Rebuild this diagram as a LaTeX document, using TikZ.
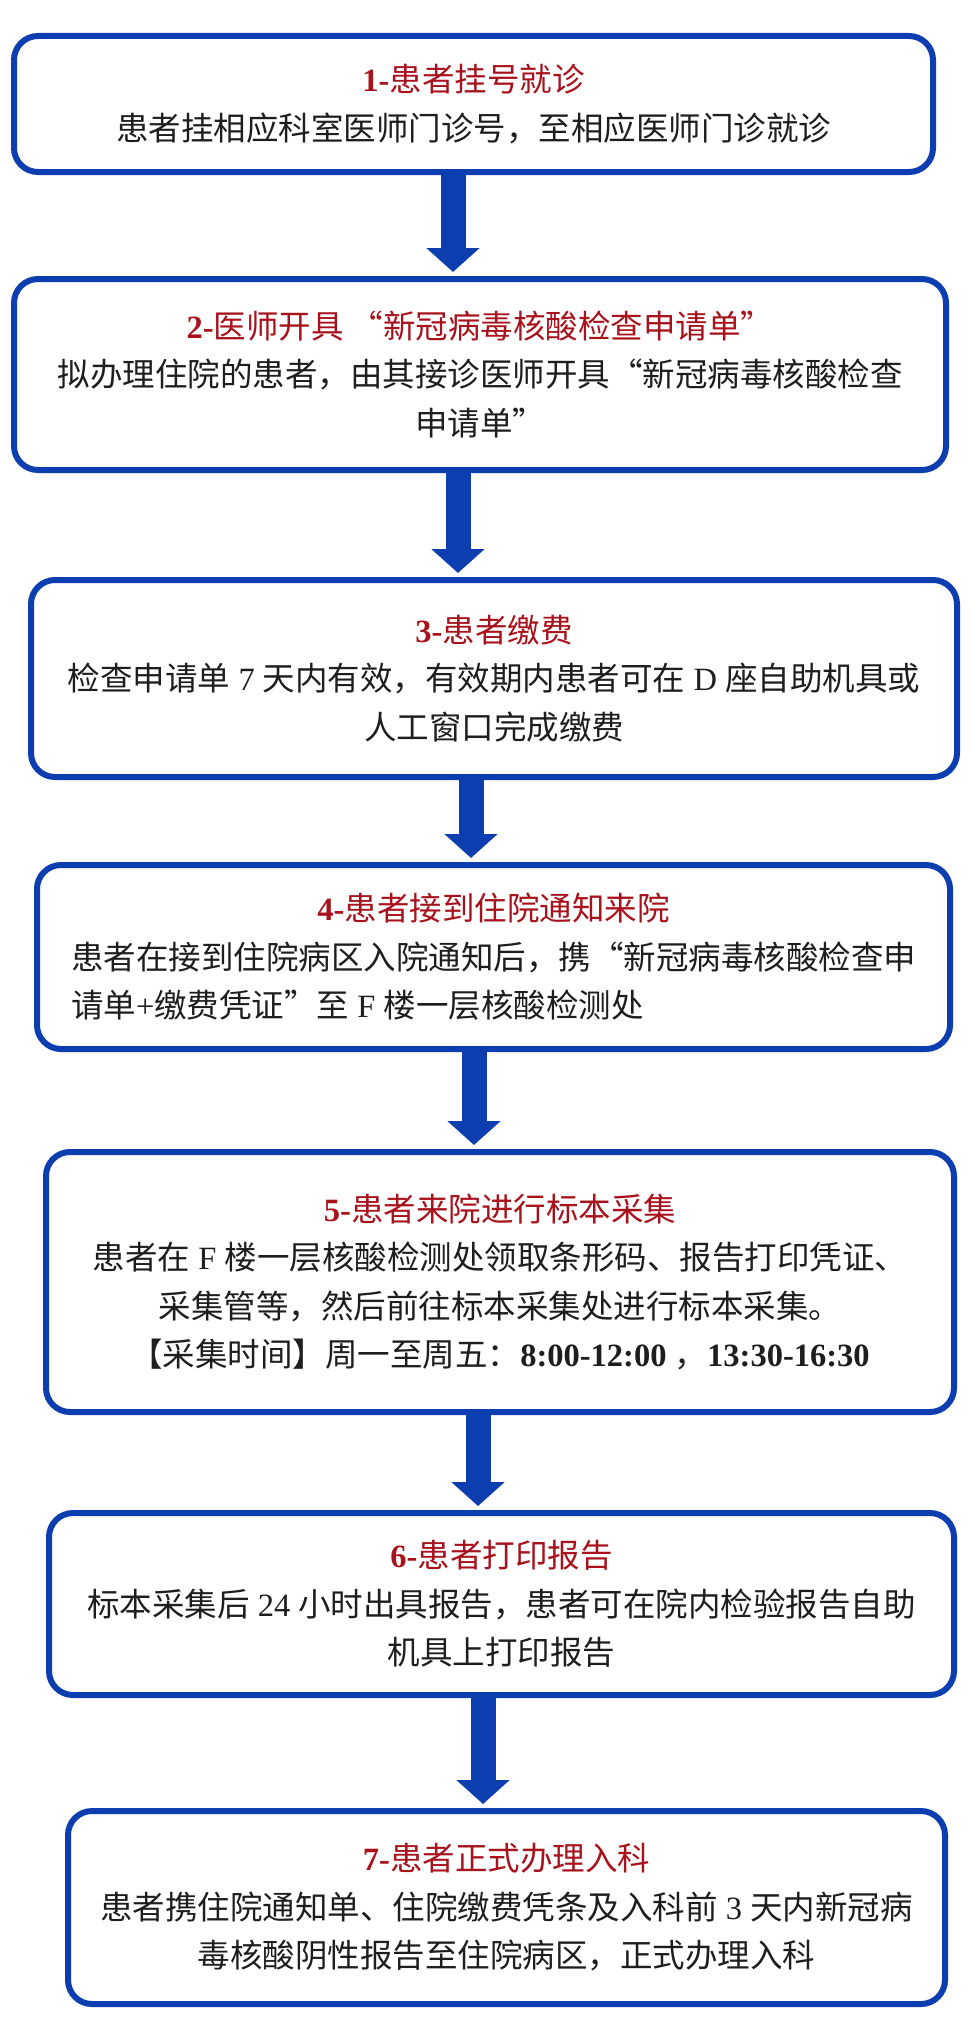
\documentclass[tikz,border=0pt]{standalone}
\usepackage{fontspec}
\setmainfont{Noto Sans CJK SC}
\newfontfamily\lat{Liberation Serif}
\usetikzlibrary{arrows.meta}
\definecolor{fblue}{RGB}{12,62,176}
\definecolor{tred}{RGB}{168,18,28}
\definecolor{btext}{RGB}{30,30,30}
\newcommand{\ttl}[2]{{\color{tred}{\lat\bfseries #1}#2}}
\newcommand{\lt}[1]{{\lat\ #1\ }}
\tikzset{
  stepbox/.style={draw=fblue, line width=6pt, rounded corners=24pt, fill=white,
    outer sep=0pt, inner sep=0pt, text=btext, align=center,
    font={\fontsize{32.5}{48.5}\selectfont}},
  flow/.style={draw=fblue, line width=25pt, -{Triangle[width=52pt,length=24pt]}, shorten >=7pt}
}
\begin{document}
\begin{tikzpicture}[x=1pt,y=-1pt]
\useasboundingbox (0,0) rectangle (972,2031);
\fill[white] (0,0) rectangle (972,2031);

\node[stepbox, minimum width=919pt, minimum height=136pt] (b1) at (473.5,104)
  {\ttl{1-}{患者挂号就诊}\\患者挂相应科室医师门诊号，至相应医师门诊就诊};

\node[stepbox, minimum width=932pt, minimum height=191pt] (b2) at (480,374.5)
  {\ttl{2-}{医师开具 “新冠病毒核酸检查申请单”}\\拟办理住院的患者，由其接诊医师开具“新冠病毒核酸检查\\申请单”};

\node[stepbox, minimum width=926pt, minimum height=197pt] (b3) at (494,678.5)
  {\ttl{3-}{患者缴费}\\检查申请单\lt{7}天内有效，有效期内患者可在\lt{D}座自助机具或\\人工窗口完成缴费};

\node[stepbox, align=left, minimum width=913pt, minimum height=184pt] (b4) at (493.5,957)
  {\makebox[845pt][c]{\ttl{4-}{患者接到住院通知来院}}\\患者在接到住院病区入院通知后，携“新冠病毒核酸检查申\\请单{\lat +}缴费凭证”至\lt{F}楼一层核酸检测处};

\node[stepbox, minimum width=908pt, minimum height=260pt] (b5) at (500,1282)
  {\ttl{5-}{患者来院进行标本采集}\\患者在\lt{F}楼一层核酸检测处领取条形码、报告打印凭证、\\采集管等，然后前往标本采集处进行标本采集。\\【采集时间】周一至周五：{\lat\bfseries 8:00-12:00\ }，{\lat\bfseries 13:30-16:30}};

\node[stepbox, minimum width=905pt, minimum height=182pt] (b6) at (501.5,1604)
  {\ttl{6-}{患者打印报告}\\标本采集后\lt{24}小时出具报告，患者可在院内检验报告自助\\机具上打印报告};

\node[stepbox, minimum width=877pt, minimum height=193pt] (b7) at (506.5,1907.5)
  {\ttl{7-}{患者正式办理入科}\\患者携住院通知单、住院缴费凭条及入科前\lt{3}天内新冠病\\毒核酸阴性报告至住院病区，正式办理入科};

\coordinate (x1) at (453,0);
\coordinate (x2) at (458,0);
\coordinate (x3) at (471,0);
\coordinate (x4) at (474,0);
\coordinate (x5) at (478,0);
\coordinate (x6) at (483,0);

\draw[flow] (b1.south -| x1) -- (b2.north -| x1);
\draw[flow] (b2.south -| x2) -- (b3.north -| x2);
\draw[flow] (b3.south -| x3) -- (b4.north -| x3);
\draw[flow] (b4.south -| x4) -- (b5.north -| x4);
\draw[flow] (b5.south -| x5) -- (b6.north -| x5);
\draw[flow] (b6.south -| x6) -- (b7.north -| x6);
\end{tikzpicture}
\end{document}
